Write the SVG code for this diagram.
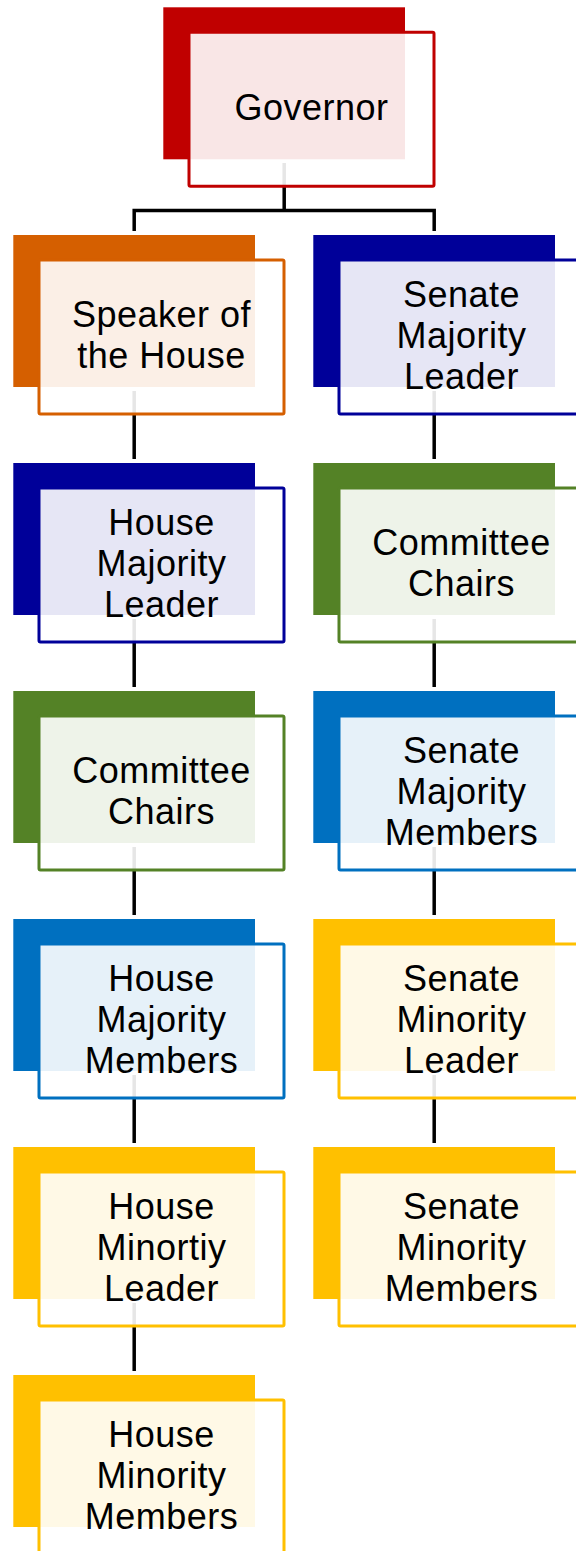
<svg xmlns="http://www.w3.org/2000/svg" width="576" height="1551" viewBox="0 0 576 1551">
<style>
.back{stroke:none}
.front{fill:#ffffff;fill-opacity:0.9;stroke-width:3}
.lbl{font-family:"Liberation Sans",Arial,sans-serif;font-size:36px;letter-spacing:0.5px;fill:#000;text-anchor:middle}
.conn{fill:none;stroke:#000;stroke-width:3.5}
.red .back{fill:#C00000}.red .front{stroke:#C00000}
.orange .back{fill:#D55F00}.orange .front{stroke:#D55F00}
.navy .back{fill:#000099}.navy .front{stroke:#000099}
.green .back{fill:#548226}.green .front{stroke:#548226}
.blue .back{fill:#0070C0}.blue .front{stroke:#0070C0}
.gold .back{fill:#FFC000}.gold .front{stroke:#FFC000}
</style>
<rect width="576" height="1551" fill="#ffffff"/>
<g id="connectors" class="conn">
<path d="M284.2 163 V210.5 M134.2 231 V210.5 H434.2 V231"/>
<path d="M134.2 391 V459 M134.2 619 V687 M134.2 847 V915 M134.2 1075 V1143 M134.2 1303 V1371"/>
<path d="M434.2 391 V459 M434.2 619 V687 M434.2 847 V915 M434.2 1075 V1143"/>
</g>
<g id="governor" class="red">
<rect class="back" x="163.3" y="7.3" width="241.7" height="152"/>
<rect class="front" x="189" y="32.3" width="245" height="154" rx="1.5"/>
<text class="lbl" x="311.5" y="120">Governor</text>
</g>
<g id="speaker" class="orange">
<rect class="back" x="13.3" y="235" width="241.7" height="152"/>
<rect class="front" x="39" y="260" width="245" height="154" rx="1.5"/>
<text class="lbl" x="161.5"><tspan x="161.5" y="327">Speaker of</tspan><tspan x="161.5" y="368">the House</tspan></text>
</g>
<g id="house-majority-leader" class="navy">
<rect class="back" x="13.3" y="463" width="241.7" height="152"/>
<rect class="front" x="39" y="488" width="245" height="154" rx="1.5"/>
<text class="lbl"><tspan x="161.5" y="534.5">House</tspan><tspan x="161.5" y="575.5">Majority</tspan><tspan x="161.5" y="616.5">Leader</tspan></text>
</g>
<g id="house-committee-chairs" class="green">
<rect class="back" x="13.3" y="691" width="241.7" height="152"/>
<rect class="front" x="39" y="716" width="245" height="154" rx="1.5"/>
<text class="lbl"><tspan x="161.5" y="783">Committee</tspan><tspan x="161.5" y="824">Chairs</tspan></text>
</g>
<g id="house-majority-members" class="blue">
<rect class="back" x="13.3" y="919" width="241.7" height="152"/>
<rect class="front" x="39" y="944" width="245" height="154" rx="1.5"/>
<text class="lbl"><tspan x="161.5" y="990.5">House</tspan><tspan x="161.5" y="1031.5">Majority</tspan><tspan x="161.5" y="1072.5">Members</tspan></text>
</g>
<g id="house-minority-leader" class="gold">
<rect class="back" x="13.3" y="1147" width="241.7" height="152"/>
<rect class="front" x="39" y="1172" width="245" height="154" rx="1.5"/>
<text class="lbl"><tspan x="161.5" y="1218.5">House</tspan><tspan x="161.5" y="1259.5">Minortiy</tspan><tspan x="161.5" y="1300.5">Leader</tspan></text>
</g>
<g id="house-minority-members" class="gold">
<rect class="back" x="13.3" y="1375" width="241.7" height="152"/>
<rect class="front" x="39" y="1400" width="245" height="154" rx="1.5"/>
<text class="lbl"><tspan x="161.5" y="1446.5">House</tspan><tspan x="161.5" y="1487.5">Minority</tspan><tspan x="161.5" y="1528.5">Members</tspan></text>
</g>
<g id="senate-majority-leader" class="navy">
<rect class="back" x="313.3" y="235" width="241.7" height="152"/>
<rect class="front" x="339" y="260" width="245" height="154" rx="1.5"/>
<text class="lbl"><tspan x="461.5" y="306.5">Senate</tspan><tspan x="461.5" y="347.5">Majority</tspan><tspan x="461.5" y="388.5">Leader</tspan></text>
</g>
<g id="senate-committee-chairs" class="green">
<rect class="back" x="313.3" y="463" width="241.7" height="152"/>
<rect class="front" x="339" y="488" width="245" height="154" rx="1.5"/>
<text class="lbl"><tspan x="461.5" y="555">Committee</tspan><tspan x="461.5" y="596">Chairs</tspan></text>
</g>
<g id="senate-majority-members" class="blue">
<rect class="back" x="313.3" y="691" width="241.7" height="152"/>
<rect class="front" x="339" y="716" width="245" height="154" rx="1.5"/>
<text class="lbl"><tspan x="461.5" y="762.5">Senate</tspan><tspan x="461.5" y="803.5">Majority</tspan><tspan x="461.5" y="844.5">Members</tspan></text>
</g>
<g id="senate-minority-leader" class="gold">
<rect class="back" x="313.3" y="919" width="241.7" height="152"/>
<rect class="front" x="339" y="944" width="245" height="154" rx="1.5"/>
<text class="lbl"><tspan x="461.5" y="990.5">Senate</tspan><tspan x="461.5" y="1031.5">Minority</tspan><tspan x="461.5" y="1072.5">Leader</tspan></text>
</g>
<g id="senate-minority-members" class="gold">
<rect class="back" x="313.3" y="1147" width="241.7" height="152"/>
<rect class="front" x="339" y="1172" width="245" height="154" rx="1.5"/>
<text class="lbl"><tspan x="461.5" y="1218.5">Senate</tspan><tspan x="461.5" y="1259.5">Minority</tspan><tspan x="461.5" y="1300.5">Members</tspan></text>
</g>
</svg>
